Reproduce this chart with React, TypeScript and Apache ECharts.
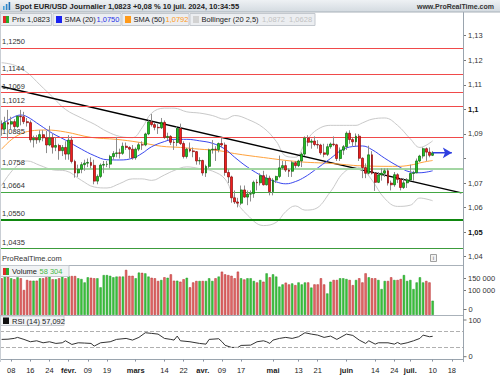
import React, { useEffect, useRef } from 'react';
import * as echarts from 'echarts';

const FONT = '"Liberation Sans", Arial, sans-serif';

function tradingDays(start: string, count: number): string[] {
  const out: string[] = [];
  const d = new Date(start + 'T00:00:00Z');
  while (out.length < count) {
    const wd = d.getUTCDay();
    if (wd !== 0 && wd !== 6) out.push(d.toISOString().slice(0, 10));
    d.setUTCDate(d.getUTCDate() + 1);
  }
  return out;
}

const DATES = tradingDays('2024-01-03', 145);

const TICK_DATES = [
  '2024-01-08', '2024-01-16', '2024-01-24', '2024-02-01', '2024-02-09', '2024-02-19',
  '2024-03-01', '2024-03-14', '2024-03-22', '2024-04-01', '2024-04-09', '2024-04-17',
  '2024-05-01', '2024-05-13', '2024-05-21', '2024-06-03', '2024-06-14', '2024-06-24',
  '2024-07-01', '2024-07-10', '2024-07-18',
];
const MONTH_LABELS: Record<string, string> = {
  '2024-02-01': 'févr.', '2024-03-01': 'mars', '2024-04-01': 'avr.',
  '2024-05-01': 'mai', '2024-06-03': 'juin', '2024-07-01': 'juil.',
};

const OPEN = [
  1.0940, 1.0920, 1.0946, 1.0940, 1.0950, 1.0930, 1.0972, 1.0970, 1.0950, 1.0946,
  1.0876, 1.0883, 1.0876, 1.0897, 1.0884, 1.0855, 1.0884, 1.0846, 1.0853, 1.0832,
  1.0845, 1.0818, 1.0875, 1.0788, 1.0741, 1.0756, 1.0775, 1.0781, 1.0784, 1.0772,
  1.0708, 1.0727, 1.0773, 1.0776, 1.0777, 1.0808, 1.0820, 1.0823, 1.0821, 1.0850,
  1.0845, 1.0838, 1.0803, 1.0838, 1.0856, 1.0855, 1.0900, 1.0949, 1.0938, 1.0927,
  1.0925, 1.0947, 1.0886, 1.0890, 1.0866, 1.0865, 1.0922, 1.0861, 1.0808, 1.0838,
  1.0831, 1.0828, 1.0790, 1.0792, 1.0741, 1.0768, 1.0835, 1.0838, 1.0836, 1.0861,
  1.0855, 1.0743, 1.0725, 1.0640, 1.0623, 1.0618, 1.0672, 1.0643, 1.0655, 1.0657,
  1.0703, 1.0701, 1.0730, 1.0693, 1.0720, 1.0665, 1.0712, 1.0727, 1.0762, 1.0771,
  1.0753, 1.0748, 1.0783, 1.0771, 1.0790, 1.0818, 1.0883, 1.0866, 1.0871, 1.0857,
  1.0855, 1.0823, 1.0817, 1.0848, 1.0859, 1.0856, 1.0800, 1.0834, 1.0848, 1.0903,
  1.0877, 1.0868, 1.0891, 1.0801, 1.0763, 1.0740, 1.0815, 1.0740, 1.0703, 1.0733,
  1.0740, 1.0750, 1.0700, 1.0693, 1.0734, 1.0715, 1.0682, 1.0701, 1.0713, 1.0739,
  1.0742, 1.0790, 1.0810, 1.0840, 1.0826, 1.0813,
];
const HIGH = [
  1.0955, 1.0970, 1.0998, 1.0970, 1.0960, 1.0975, 1.0998, 1.0990, 1.0965, 1.0955,
  1.0893, 1.0895, 1.0915, 1.0915, 1.0912, 1.0933, 1.0900, 1.0885, 1.0860, 1.0855,
  1.0870, 1.0895, 1.0890, 1.0795, 1.0775, 1.0785, 1.0795, 1.0800, 1.0805, 1.0795,
  1.0735, 1.0780, 1.0790, 1.0790, 1.0815, 1.0830, 1.0888, 1.0840, 1.0865, 1.0865,
  1.0850, 1.0855, 1.0845, 1.0865, 1.0870, 1.0905, 1.0955, 1.0981, 1.0945, 1.0940,
  1.0965, 1.0955, 1.0905, 1.0895, 1.0875, 1.0930, 1.0942, 1.0870, 1.0843, 1.0865,
  1.0845, 1.0830, 1.0805, 1.0795, 1.0775, 1.0840, 1.0875, 1.0850, 1.0865, 1.0885,
  1.0865, 1.0755, 1.0730, 1.0670, 1.0640, 1.0690, 1.0690, 1.0670, 1.0670, 1.0710,
  1.0715, 1.0740, 1.0750, 1.0735, 1.0730, 1.0720, 1.0730, 1.0812, 1.0790, 1.0790,
  1.0760, 1.0790, 1.0790, 1.0795, 1.0825, 1.0890, 1.0895, 1.0880, 1.0890, 1.0875,
  1.0860, 1.0860, 1.0860, 1.0865, 1.0890, 1.0860, 1.0845, 1.0855, 1.0910, 1.0915,
  1.0885, 1.0902, 1.0900, 1.0805, 1.0780, 1.0852, 1.0830, 1.0745, 1.0745, 1.0760,
  1.0760, 1.0760, 1.0710, 1.0745, 1.0740, 1.0720, 1.0720, 1.0720, 1.0775, 1.0750,
  1.0800, 1.0815, 1.0845, 1.0845, 1.0845, 1.0830,
];
const LOW = [
  1.0893, 1.0915, 1.0877, 1.0918, 1.0910, 1.0925, 1.0935, 1.0940, 1.0930, 1.0865,
  1.0845, 1.0860, 1.0865, 1.0870, 1.0822, 1.0850, 1.0820, 1.0830, 1.0795, 1.0810,
  1.0795, 1.0795, 1.0780, 1.0722, 1.0725, 1.0740, 1.0750, 1.0765, 1.0760, 1.0695,
  1.0695, 1.0720, 1.0740, 1.0765, 1.0760, 1.0795, 1.0805, 1.0800, 1.0815, 1.0835,
  1.0800, 1.0795, 1.0795, 1.0830, 1.0835, 1.0850, 1.0895, 1.0930, 1.0915, 1.0900,
  1.0920, 1.0880, 1.0875, 1.0855, 1.0835, 1.0850, 1.0855, 1.0800, 1.0800, 1.0825,
  1.0805, 1.0775, 1.0775, 1.0730, 1.0725, 1.0760, 1.0820, 1.0790, 1.0825, 1.0845,
  1.0730, 1.0700, 1.0620, 1.0615, 1.0601, 1.0610, 1.0640, 1.0610, 1.0625, 1.0640,
  1.0670, 1.0690, 1.0690, 1.0690, 1.0650, 1.0650, 1.0700, 1.0720, 1.0755, 1.0745,
  1.0725, 1.0725, 1.0760, 1.0765, 1.0765, 1.0810, 1.0850, 1.0840, 1.0850, 1.0840,
  1.0815, 1.0805, 1.0810, 1.0840, 1.0850, 1.0790, 1.0790, 1.0815, 1.0835, 1.0860,
  1.0850, 1.0850, 1.0790, 1.0720, 1.0720, 1.0735, 1.0735, 1.0668, 1.0700, 1.0710,
  1.0725, 1.0690, 1.0670, 1.0685, 1.0700, 1.0670, 1.0676, 1.0680, 1.0710, 1.0710,
  1.0740, 1.0785, 1.0800, 1.0790, 1.0805, 1.0810,
];
const CLOSE = [
  1.0920, 1.0946, 1.0940, 1.0950, 1.0930, 1.0972, 1.0970, 1.0950, 1.0946, 1.0876,
  1.0883, 1.0876, 1.0897, 1.0884, 1.0855, 1.0884, 1.0846, 1.0853, 1.0832, 1.0845,
  1.0818, 1.0875, 1.0788, 1.0741, 1.0756, 1.0775, 1.0781, 1.0784, 1.0772, 1.0708,
  1.0727, 1.0773, 1.0776, 1.0777, 1.0808, 1.0820, 1.0823, 1.0821, 1.0850, 1.0845,
  1.0838, 1.0803, 1.0838, 1.0856, 1.0855, 1.0900, 1.0949, 1.0938, 1.0927, 1.0925,
  1.0947, 1.0886, 1.0890, 1.0866, 1.0865, 1.0922, 1.0861, 1.0808, 1.0838, 1.0831,
  1.0828, 1.0790, 1.0792, 1.0741, 1.0768, 1.0835, 1.0838, 1.0836, 1.0861, 1.0855,
  1.0743, 1.0725, 1.0640, 1.0623, 1.0618, 1.0672, 1.0643, 1.0655, 1.0657, 1.0703,
  1.0701, 1.0730, 1.0693, 1.0720, 1.0665, 1.0712, 1.0727, 1.0762, 1.0771, 1.0753,
  1.0748, 1.0783, 1.0771, 1.0790, 1.0818, 1.0883, 1.0866, 1.0871, 1.0857, 1.0855,
  1.0823, 1.0817, 1.0848, 1.0859, 1.0856, 1.0800, 1.0834, 1.0848, 1.0903, 1.0877,
  1.0868, 1.0891, 1.0801, 1.0763, 1.0740, 1.0815, 1.0740, 1.0703, 1.0733, 1.0740,
  1.0750, 1.0700, 1.0693, 1.0734, 1.0715, 1.0682, 1.0701, 1.0713, 1.0739, 1.0742,
  1.0790, 1.0810, 1.0840, 1.0826, 1.0813, 1.0823,
];
const VOLUME = [
  150000, 160000, 157000, 150000, 146000, 154000, 150000, 102000, 143000, 140000,
  140000, 140000, 150000, 150000, 154000, 157000, 146000, 146000, 150000, 157000,
  150000, 159000, 159000, 159000, 150000, 147000, 133000, 154000, 152000, 150000,
  150000, 113000, 163000, 163000, 160000, 154000, 157000, 157000, 157000, 184000,
  160000, 160000, 150000, 173000, 172000, 170000, 157000, 152000, 150000, 139000,
  143000, 154000, 152000, 166000, 140000, 140000, 136000, 146000, 152000, 113000,
  133000, 139000, 139000, 139000, 139000, 150000, 139000, 150000, 157000, 177000,
  166000, 163000, 160000, 150000, 177000, 150000, 145000, 150000, 150000, 139000,
  133000, 143000, 136000, 170000, 154000, 166000, 157000, 116000, 125000, 132000,
  125000, 129000, 122000, 133000, 125000, 133000, 133000, 112000, 125000, 125000,
  150000, 125000, 88000, 136000, 143000, 143000, 150000, 150000, 147000, 143000,
  122000, 143000, 150000, 133000, 170000, 154000, 150000, 150000, 143000, 106000,
  139000, 139000, 154000, 143000, 143000, 147000, 163000, 139000, 143000, 106000,
  133000, 154000, 133000, 139000, 133000, 58304,
];

const SMA20: [number, number][] = [
  [0, 1.0940], [4, 1.0970], [6, 1.0977], [8, 1.0970], [12, 1.0936], [16, 1.0902],
  [20, 1.0875], [25, 1.0838], [29, 1.0812], [33, 1.0795], [37, 1.0794], [41, 1.0801],
  [44, 1.0821], [47, 1.0848], [51, 1.0869], [54, 1.0878], [58, 1.0878], [62, 1.0872],
  [66, 1.0862], [70, 1.0838], [73, 1.0805], [77, 1.0765], [82, 1.0726], [86, 1.0705],
  [89, 1.0697], [92, 1.0706], [95, 1.0725], [98, 1.0752], [103, 1.0800], [107, 1.0838],
  [111, 1.0850], [113, 1.0851], [116, 1.0836], [120, 1.0801], [124, 1.0770],
  [128, 1.0745], [131, 1.0742], [135, 1.0750],
];
const SMA50: [number, number][] = [
  [0, 1.0838], [3, 1.0876], [6, 1.0900], [9, 1.0912], [14, 1.0916], [20, 1.0908],
  [28, 1.0886], [36, 1.0878], [43, 1.0866], [50, 1.0850], [56, 1.0845], [62, 1.0838],
  [68, 1.0832], [73, 1.0820], [82, 1.0804], [93, 1.0787], [103, 1.0780], [113, 1.0770],
  [124, 1.0768], [128, 1.0773], [132, 1.0785], [135, 1.0792],
];
const BOLL_UP: [number, number][] = [
  [0, 1.1190], [4, 1.1180], [8, 1.1150], [12, 1.1100], [16, 1.1050], [20, 1.1000],
  [25, 1.0965], [29, 1.0940], [33, 1.0910], [37, 1.0890], [41, 1.0885], [44, 1.0925],
  [47, 1.0985], [51, 1.1005], [54, 1.1005], [58, 1.0990], [62, 1.0985], [66, 1.0975],
  [70, 1.0960], [73, 1.0975], [77, 1.0960], [82, 1.0925], [86, 1.0870], [89, 1.0810],
  [92, 1.0805], [95, 1.0860], [98, 1.0910], [103, 1.0935], [107, 1.0935], [111, 1.0935],
  [113, 1.0945], [116, 1.0960], [120, 1.0965], [124, 1.0935], [128, 1.0880],
  [131, 1.0845], [135, 1.0872],
];
const BOLL_LOW: [number, number][] = [
  [0, 1.0690], [4, 1.0760], [8, 1.0790], [12, 1.0772], [16, 1.0754], [20, 1.0750],
  [25, 1.0711], [29, 1.0684], [33, 1.0680], [37, 1.0698], [41, 1.0717], [44, 1.0717],
  [47, 1.0711], [51, 1.0733], [54, 1.0751], [58, 1.0766], [62, 1.0759], [66, 1.0749],
  [70, 1.0716], [73, 1.0635], [77, 1.0570], [82, 1.0527], [86, 1.0540], [89, 1.0584],
  [92, 1.0607], [95, 1.0590], [98, 1.0594], [103, 1.0665], [107, 1.0741], [111, 1.0765],
  [113, 1.0757], [116, 1.0712], [120, 1.0637], [124, 1.0605], [128, 1.0610],
  [131, 1.0639], [135, 1.0628],
];
const RSI: [number, number][] = [
  [0, 49.5], [2, 50], [4, 52], [5, 54.4], [7, 49.5], [9, 43.7], [11, 46.1], [13, 41.2],
  [15, 43.7], [17, 39.6], [19, 41.2], [20, 46.1], [22, 37.1], [24, 41.2], [26, 40.5],
  [28, 39.6], [29, 33.1], [31, 41.2], [34, 43.7], [36, 49.5], [39, 51.9], [41, 47.8],
  [43, 54.4], [45, 65.8], [47, 64.2], [49, 62.5], [51, 51.9], [53, 49.5], [54, 47.8],
  [55, 57.6], [56, 46.1], [59, 43.7], [62, 39.6], [64, 37.9], [65, 49.5], [68, 51.1],
  [69, 44], [70, 35], [72, 29.8], [74, 29.8], [75, 34.7], [78, 35.5], [80, 43.7],
  [82, 46.1], [83, 43.7], [84, 39.6], [85, 47.8], [87, 51.9], [89, 54.4], [91, 51.9],
  [93, 56], [95, 65.8], [97, 62.5], [99, 60], [101, 54.4], [103, 57.6], [105, 49.5],
  [108, 62.5], [110, 59.2], [112, 47.8], [114, 39.6], [115, 46.1], [117, 37.9],
  [118, 41.2], [121, 41.2], [123, 37.9], [124, 42], [125, 37.9], [127, 41.2],
  [129, 46.1], [131, 51.9], [132, 60], [134, 56], [135, 57.092],
];

const LEVELS = [1.1250, 1.1144, 1.1069, 1.1012, 1.0885, 1.0758, 1.0664, 1.0550, 1.0435];
const TREND: [number, number][] = [[0, 1.10936], [144, 1.0660]];
const PRICE_TICKS = [1.04, 1.05, 1.06, 1.07, 1.08, 1.09, 1.10, 1.11, 1.12, 1.13];
const PRICE_LABELS = [1.04, 1.05, 1.06, 1.07, 1.09, 1.10, 1.11, 1.12, 1.13];
const VOLUME_TICKS = [100000, 150000];
const RSI_LEVELS = [70, 30];
const LAST_PRICE = 1.0823;
const LAST_VOLUME = 58304;
const LAST_RSI = 57.092;

const fr = (v: number, d: number) => v.toFixed(d).replace('.', ',');
const frShort = (v: number) => String(parseFloat(v.toFixed(2))).replace('.', ',');
const frThousands = (v: number) => String(Math.round(v)).replace(/\B(?=(\d{3})+(?!\d))/g, ' ');

const LEVEL_STYLE = [
  { color: '#f04a4a', width: 1 }, { color: '#f04a4a', width: 1 }, { color: '#f04a4a', width: 1 },
  { color: '#f04a4a', width: 1 }, { color: '#f04a4a', width: 1 }, { color: '#a3d6a3', width: 2 },
  { color: '#44a844', width: 1.2 }, { color: '#0f870f', width: 2 }, { color: '#3c9c3c', width: 1.2 },
];

function txt(x: number, y: number, text: string, o: any = {}) {
  return {
    type: 'text', x, y, silent: true, z: 110,
    style: {
      text, fill: o.color || '#222', fontSize: o.size || 7.5, fontWeight: o.bold ? 'bold' : 'normal',
      fontFamily: FONT, align: o.align || 'left', textAlign: o.align || 'left',
      verticalAlign: 'middle', textVerticalAlign: 'middle',
    },
  };
}
function rect(x: number, y: number, w: number, h: number, fill: any, stroke?: string, z = 105) {
  return { type: 'rect', silent: true, z, shape: { x, y, width: w, height: h }, style: { fill, stroke: stroke || 'none', lineWidth: 1 } };
}
function hline(x1: number, y1: number, x2: number, y2: number, stroke: string, w = 1, z = 104) {
  return { type: 'line', silent: true, z, shape: { x1, y1, x2, y2 }, style: { stroke, lineWidth: w } };
}

function buildOption() {
  const wickData = OPEN.map((o, i) => [o, CLOSE[i], LOW[i], HIGH[i]]);
  const bodyData = OPEN.map((o, i) => [o, CLOSE[i], Math.min(o, CLOSE[i]), Math.max(o, CLOSE[i])]);
  const volData = VOLUME.map((v, i) => {
    const up = CLOSE[i] >= OPEN[i];
    return { value: v, itemStyle: { color: up ? '#3cc43c' : '#e26a6a', borderColor: up ? '#22992a' : '#b52a2a', borderWidth: 0.5 } };
  });

  const grids = [
    { left: 0, right: 37, top: 26, height: 239 },
    { left: 0, right: 37, top: 266, height: 49 },
    { left: 0, right: 37, top: 315, height: 47 },
  ];

  const xAxes = [0, 1, 2].map((g) => ({
    type: 'category', gridIndex: g, data: DATES, show: g === 2,
    axisLine: { show: g === 2, lineStyle: { color: '#9aa4ae', width: 1 } },
    axisTick: { show: g === 2, alignWithLabel: true, length: 2, lineStyle: { color: '#8890a0' },
      interval: (_i: number, v: string) => TICK_DATES.includes(v) },
    axisLabel: {
      show: g === 2, fontSize: 7.5, color: '#222', fontFamily: FONT, margin: 4,
      interval: (_i: number, v: string) => TICK_DATES.includes(v),
      formatter: (v: string) => (MONTH_LABELS[v] ? '{b|' + MONTH_LABELS[v] + '}' : v.slice(8, 10)),
      rich: { b: { fontWeight: 'bold', fontSize: 7.5, color: '#222', fontFamily: FONT } },
    },
    splitLine: { show: false },
  }));

  const yAxes = [
    {
      type: 'value', gridIndex: 0, position: 'right', min: 1.03664, max: 1.13395, scale: true,
      axisLine: { show: false },
      axisTick: { show: true, length: 3, customValues: PRICE_TICKS, lineStyle: { color: '#777' } },
      axisLabel: {
        customValues: PRICE_LABELS, fontSize: 7.5, color: '#333', fontFamily: FONT, margin: 5,
        formatter: (v: number) => {
          const s = frShort(v);
          return Math.round(v * 100) % 5 === 0 ? '{b|' + s + '}' : s;
        },
        rich: { b: { fontWeight: 'bold', fontSize: 7.5, color: '#111', fontFamily: FONT } },
      },
      splitLine: { show: false },
    },
    {
      type: 'value', gridIndex: 1, position: 'right', min: 0, max: 200000,
      axisLine: { show: false },
      axisTick: { show: true, length: 3, customValues: VOLUME_TICKS, lineStyle: { color: '#777' } },
      axisLabel: { customValues: VOLUME_TICKS, fontSize: 7.5, color: '#333', fontFamily: FONT, margin: 5, formatter: (v: number) => frThousands(v) },
      splitLine: { show: false },
    },
    {
      type: 'value', gridIndex: 2, position: 'right', min: -5.9, max: 109.3,
      axisLine: { show: false }, axisTick: { show: false }, axisLabel: { show: false }, splitLine: { show: false },
    },
  ];

  const levelMarks = LEVELS.map((v, k) => ({
    yAxis: v,
    lineStyle: { color: LEVEL_STYLE[k].color, width: LEVEL_STYLE[k].width, type: 'solid' },
    label: { show: true, position: 'insideStartTop', formatter: fr(v, 4), color: '#333', fontSize: 7.5, fontFamily: FONT, distance: 2 },
  }));

  const series: any[] = [
    { type: 'line', name: 'BollUp', xAxisIndex: 0, yAxisIndex: 0, data: BOLL_UP, smooth: 0.4, symbol: 'none', lineStyle: { color: '#c9c9c9', width: 1 }, z: 2 },
    { type: 'line', name: 'BollLow', xAxisIndex: 0, yAxisIndex: 0, data: BOLL_LOW, smooth: 0.4, symbol: 'none', lineStyle: { color: '#c9c9c9', width: 1 }, z: 2 },
    {
      type: 'line', name: 'Trend', xAxisIndex: 0, yAxisIndex: 0, data: TREND, symbol: 'none',
      lineStyle: { color: '#000', width: 1.5 }, z: 3,
      markLine: { silent: true, symbol: 'none', animation: false, precision: 5, data: levelMarks },
    },
    { type: 'line', name: 'SMA50', xAxisIndex: 0, yAxisIndex: 0, data: SMA50, smooth: 0.4, symbol: 'none', lineStyle: { color: '#ffa23c', width: 1 }, z: 4 },
    { type: 'line', name: 'SMA20', xAxisIndex: 0, yAxisIndex: 0, data: SMA20, smooth: 0.4, symbol: 'none', lineStyle: { color: '#3a48ee', width: 1 }, z: 4 },
    {
      type: 'candlestick', name: 'Wick', xAxisIndex: 0, yAxisIndex: 0, data: wickData, barWidth: 1, z: 5,
      itemStyle: { color: '#8c8c8c', color0: '#8c8c8c', borderColor: '#8c8c8c', borderColor0: '#8c8c8c', borderWidth: 1 },
    },
    {
      type: 'candlestick', name: 'Prix', xAxisIndex: 0, yAxisIndex: 0, data: bodyData, barWidth: 2.4, z: 6,
      itemStyle: { color: '#22c022', color0: '#f01e1e', borderColor: '#0b6b0b', borderColor0: '#8e0c0c', borderWidth: 0.7 },
      markLine: {
        silent: true, symbol: 'none', animation: false, precision: 5,
        data: [{
          yAxis: LAST_PRICE, lineStyle: { opacity: 0 },
          label: { show: true, position: 'end', formatter: fr(LAST_PRICE, 4), distance: 2, backgroundColor: '#f3d11c', color: '#000', fontWeight: 'bold', fontSize: 8, fontFamily: FONT, padding: [1, 3, 0, 3] },
        }],
      },
    },
    {
      type: 'line', name: 'Arrow', xAxisIndex: 0, yAxisIndex: 0, z: 7, showAllSymbol: true,
      data: [
        { value: [135, LAST_PRICE], symbol: 'none' },
        { value: [141, LAST_PRICE], symbol: 'arrow', symbolSize: [8, 9], symbolRotate: -90, itemStyle: { color: '#2f3fe0' } },
      ],
      lineStyle: { color: '#2f3fe0', width: 1.5 },
    },
    {
      type: 'bar', name: 'Volume', xAxisIndex: 1, yAxisIndex: 1, data: volData, barWidth: 2.3, z: 3,
      markLine: {
        silent: true, symbol: 'none', animation: false, precision: 0,
        data: [{
          yAxis: LAST_VOLUME, lineStyle: { opacity: 0 },
          label: { show: true, position: 'end', formatter: frThousands(LAST_VOLUME), distance: 2, backgroundColor: '#fff', borderColor: '#3fb13f', borderWidth: 1, color: '#3fb13f', fontSize: 7.5, fontFamily: FONT, padding: [1, 2, 0, 2] },
        }],
      },
    },
    {
      type: 'line', name: 'RSI', xAxisIndex: 2, yAxisIndex: 2, data: RSI, symbol: 'none', lineStyle: { color: '#333', width: 1 }, z: 4,
      markLine: {
        silent: true, symbol: 'none', animation: false, precision: 3,
        data: [
          ...RSI_LEVELS.map((v) => ({ yAxis: v, lineStyle: { color: '#b0b0b0', type: 'dashed', width: 1 }, label: { show: false } })),
          {
            yAxis: LAST_RSI, lineStyle: { opacity: 0 },
            label: { show: true, position: 'end', formatter: fr(LAST_RSI, 3), distance: 2, backgroundColor: '#fff', borderColor: '#9a9a9a', borderWidth: 1, color: '#444', fontSize: 7.5, fontFamily: FONT, padding: [1, 2, 0, 2] },
          },
        ],
      },
    },
  ];

  const headerGrad = { type: 'linear', x: 0, y: 0, x2: 0, y2: 1, colorStops: [{ offset: 0, color: '#eef1f4' }, { offset: 1, color: '#d3dae0' }] };
  const boxFill = '#eceef1';
  const boxStroke = '#c3c8ce';

  const graphic: any[] = [
    hline(463.5, 12, 463.5, 362, '#9aa4ae', 1, 100),
    hline(0.5, 12, 0.5, 362, '#c9ced4', 1, 100),
    hline(0, 265.5, 463, 265.5, '#aab2ba', 1, 100),
    hline(0, 315.5, 463, 315.5, '#aab2ba', 1, 100),
    rect(0, 0, 500, 12, headerGrad, undefined, 101),
    hline(0, 12, 500, 12, '#a8b0b8', 1, 102),
    rect(3, 6, 1.6, 4, '#4aa3db', undefined, 106),
    rect(5.8, 4, 1.6, 6, '#2f86c9', undefined, 106),
    rect(8.6, 2, 1.6, 8, '#1f6fb5', undefined, 106),
    txt(15, 6.3, 'Spot EUR/USD Journalier 1,0823 +0,08 % 10 juil. 2024, 10:34:55', { bold: true, size: 7.5 }),
    txt(494, 6.3, 'www.ProRealTime.com', { bold: true, size: 7, align: 'right', color: '#333' }),
    rect(0.5, 13.5, 51, 12, boxFill, boxStroke),
    rect(3, 16, 3, 7, '#e02a2a', undefined, 106),
    rect(6, 16, 3, 7, '#2aaa2a', undefined, 106),
    txt(12, 19.8, 'Prix 1,0823'),
    rect(53, 13.5, 68, 12, boxFill, boxStroke),
    rect(56, 16, 6, 7, '#1a22f0', undefined, 106),
    txt(64.5, 19.8, 'SMA (20)'),
    txt(96.5, 19.8, '1,0750', { color: '#2a36e8' }),
    rect(122, 13.5, 67, 12, boxFill, boxStroke),
    rect(125, 16, 6, 7, '#ff9a1a', undefined, 106),
    txt(133.5, 19.8, 'SMA (50)'),
    txt(165.5, 19.8, '1,0792', { color: '#ff9a1a' }),
    rect(190, 13.5, 125, 12, boxFill, boxStroke),
    rect(193, 16, 6, 7, '#d2d2d2', undefined, 106),
    txt(201.5, 19.8, 'Bollinger (20 2,5)'),
    txt(262, 19.8, '1,0872  1,0628', { color: '#c2c2c2' }),
    txt(2, 258, 'ProRealTime.com', { color: '#333', size: 7.5 }),
    rect(430.5, 254.5, 6, 7, '#f3f3f3', '#a0a0a0'),
    txt(433.5, 258.2, 'i', { color: '#666', size: 6, align: 'center' }),
    rect(0.5, 265.5, 68.5, 11, '#f1f3f5', boxStroke),
    rect(3, 268, 3, 7, '#e02a2a', undefined, 106),
    rect(6, 268, 3, 7, '#2aaa2a', undefined, 106),
    txt(12, 271.3, 'Volume'),
    txt(39.5, 271.3, '58 304', { color: '#47b847' }),
    hline(463.5, 309.5, 466.5, 309.5, '#777', 1, 106),
    txt(468.5, 309.5, '0', { color: '#333' }),
    rect(0.5, 316, 63.5, 9.5, '#f1f3f5', boxStroke),
    rect(3, 317.5, 6, 6.5, '#111', undefined, 106),
    txt(12, 321, 'RSI (14) 57,092'),
    hline(463.5, 320, 466.5, 320, '#777', 1, 106),
    txt(468.5, 320, '100', { color: '#333' }),
    hline(463.5, 356.7, 466.5, 356.7, '#777', 1, 106),
    txt(468.5, 356.7, '0', { color: '#333' }),
  ];

  return {
    animation: false,
    backgroundColor: '#ffffff',
    grid: grids,
    xAxis: xAxes,
    yAxis: yAxes,
    series,
    graphic,
  };
}

export default function App() {
  const ref = useRef<HTMLDivElement>(null);
  useEffect(() => {
    const chart = echarts.init(ref.current as HTMLDivElement, null, { renderer: 'svg' });
    chart.setOption(buildOption() as any);
    return () => chart.dispose();
  }, []);
  return <div ref={ref} style={{ position: 'fixed', left: 0, top: 0, width: 500, height: 375, background: '#fff' }} />;
}
